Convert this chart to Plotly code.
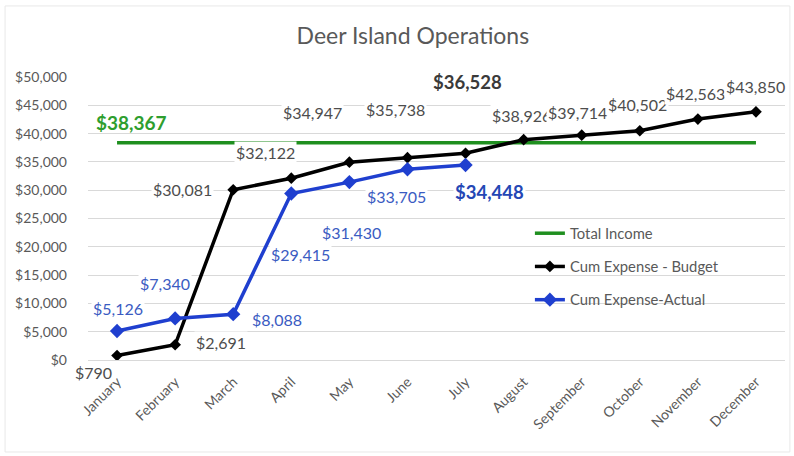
import plotly.graph_objects as go

months = ["January", "February", "March", "April", "May", "June", "July",
          "August", "September", "October", "November", "December"]
total_income = 38367
budget = [790, 2691, 30081, 32122, 34947, 35738, 36528, 38926, 39714, 40502, 42563, 43850]
actual = [5126, 7340, 8088, 29415, 31430, 33705, 34448]

# label placement offsets (pixels) - style only
budget_off = [(-24, -17), (46, 2), (-51, 0), (-26, 26), (-37, 50), (-12, 48), (2, 71),
              (-2, 24), (-4, 23), (-2, 26), (-2, 26), (0, 25)]
actual_off = [(1, 22), (-10, 35), (44, -5), (9, -61), (2, -50), (-11, -27), (24, -27)]

FONT = "Lato, 'Open Sans', sans-serif"
GRAY = "#595959"
GREEN = "#1f8f1f"
BLACK = "#000000"
BLUE = "#1f3fcf"

fig = go.Figure()
fig.add_trace(go.Scatter(x=months, y=[total_income] * len(months), mode="lines",
                         name="Total Income", legendgroup="a",
                         line=dict(color=GREEN, width=3.5)))
fig.add_trace(go.Scatter(x=months, y=budget, mode="lines+markers",
                         name="Cum Expense - Budget", legendgroup="b",
                         line=dict(color=BLACK, width=3.5),
                         marker=dict(symbol="diamond", size=9, color=BLACK)))
fig.add_trace(go.Scatter(x=months[:len(actual)], y=actual, mode="lines+markers",
                         name="Cum Expense-Actual", legendgroup="c",
                         line=dict(color=BLUE, width=3.5),
                         marker=dict(symbol="diamond", size=11, color=BLUE)))

ann = []
ann.append(dict(x=months[0], y=total_income, text=f"${total_income:,}", showarrow=False,
                xshift=14, yshift=20, font=dict(family=FONT, size=19, color="#2e9e2e", weight="bold")))
for i, v in enumerate(budget):
    bold = (i == 6)
    ann.append(dict(x=months[i], y=v, text=f"${v:,}", showarrow=False,
                    xshift=budget_off[i][0], yshift=budget_off[i][1],
                    bgcolor=None if i == 0 else "white", borderpad=1,
                    font=dict(family=FONT, size=18.5 if bold else 16,
                              color="#4d4d4d" if not bold else "#3a3a3a",
                              weight="bold" if bold else "normal")))
for i, v in enumerate(actual):
    bold = (i == 6)
    ann.append(dict(x=months[i], y=v, text=f"${v:,}", showarrow=False,
                    xshift=actual_off[i][0], yshift=actual_off[i][1], bgcolor="white", borderpad=1,
                    font=dict(family=FONT, size=18.5 if bold else 16,
                              color="#2447b5" if bold else "#3a5bc2",
                              weight="bold" if bold else "normal")))

fig.update_layout(
    width=794, height=456,
    margin=dict(l=88, r=9, t=77, b=96),
    paper_bgcolor="white", plot_bgcolor="white",
    font=dict(family=FONT, color=GRAY, size=14),
    title=dict(text="Deer Island Operations", x=0.52, xanchor="center", y=0.921, yanchor="middle",
               font=dict(family=FONT, size=23, color=GRAY)),
    annotations=ann,
    showlegend=True,
    legend=dict(x=0.634, y=0.505, xanchor="left", yanchor="top", bgcolor="rgba(0,0,0,0)",
                tracegroupgap=11, traceorder="grouped", itemwidth=30,
                font=dict(family=FONT, size=14.8, color=GRAY)),
    shapes=[dict(type="rect", xref="paper", yref="paper", x0=-0.119, x1=1.007, y0=-0.325, y1=1.251,
                 line=dict(color="#e8e8e8", width=1), layer="below")],
)
fig.update_xaxes(type="category", range=[-0.5, 11.5], tickangle=-45, showgrid=False,
                 showline=False, zeroline=False, ticks="", ticklabelstandoff=10,
                 tickfont=dict(family=FONT, size=14, color=GRAY))
fig.update_yaxes(range=[0, 50000], dtick=5000, tickprefix="$", tickformat=",",
                 gridcolor="#d9d9d9", gridwidth=1, zeroline=True, zerolinecolor="#d9d9d9",
                 zerolinewidth=1, showline=False, ticks="", ticklabelstandoff=20,
                 tickfont=dict(family=FONT, size=14, color=GRAY))

fig.write_html("out.html")
